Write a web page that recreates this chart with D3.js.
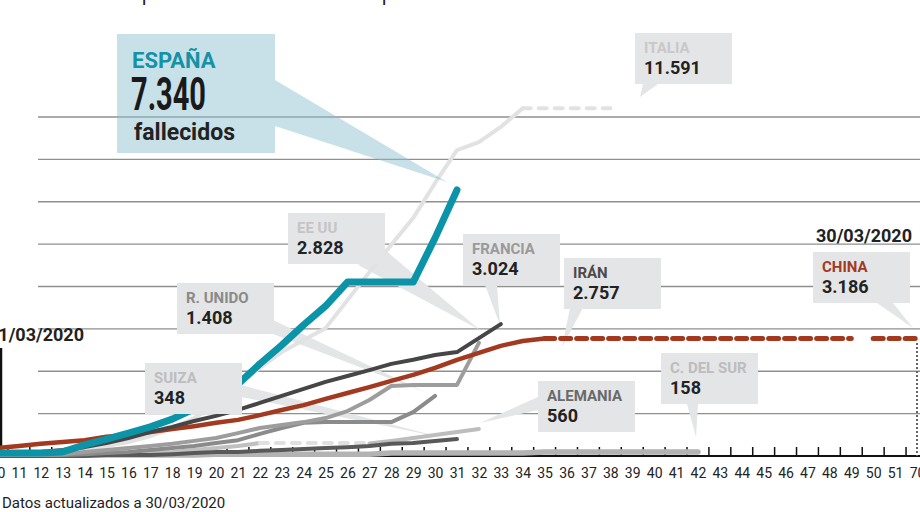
<!DOCTYPE html>
<html>
<head>
<meta charset="utf-8">
<script src="https://cdn.jsdelivr.net/npm/d3@7"></script>
<style>
  html, body { margin: 0; padding: 0; background: #fff; }
  svg { display: block; font-family: Roboto, "Noto Sans", sans-serif; }
</style>
</head>
<body>
<svg id="chart" width="920" height="512"></svg>
<script>
// eje x: dias (con salto entre 51 y 70)
const dias = [10,11,12,13,14,15,16,17,18,19,20,21,22,23,24,25,26,27,28,29,30,
  31,32,33,34,35,36,37,38,39,40,41,42,43,44,45,46,47,48,49,50,51,70];

// fallecidos, todas las series empiezan en el dia 10
const espana   = [80,80,80,110,300,460,620,790,1000,1280,1570,1950,2500,3010,3560,4070,4720,4720,4720,4720,5920,7220];
const italia   = [50,80,110,140,190,270,380,540,760,1030,1380,1930,2390,2820,3150,3470,4230,4990,5730,6460,7410,8300,8520,8930,9440];
const china    = [220,270,330,380,430,520,570,650,730,810,900,980,1110,1250,1380,1550,1710,1870,2040,2200,2390,2610,2800,2990,3120,3186];
const francia  = [50,80,110,160,240,350,490,650,790,950,1090,1250,1440,1630,1820,2010,2170,2330,2500,2610,2740,2820,3200,3580];
const eeuu     = [30,30,30,50,110,160,220,270,330,410,490,620,760,840,920,1030,1220,1520,1900,1930,1930,1930,3070];
const runido   = [30,30,30,30,50,80,110,160,220,270,350,430,600,760,900,920,920,920,920,1190,1630];
const suiza    = [0,0,0,0,0,30,30,30,50,80,110,110,140,160,190,220,240,270,330,350,410,460];
const alemania = [30,30,30,30,30,30,50,80,110,160,220,270,350];
const alemania2 = [340,410,490,570,650,730];   // desde el dia 27
const corea    = [30,30,30,30,30,30,30,30,30,30,50,50,50,50,50,50,50,50,
  80,80,80,80,80,80,80,110,110,110,110,110,110,110,110];

// tramos discontinuos [dia, valor]
const italiaProy   = [[34, 9440], [38, 9440]];
const chinaProy    = [[35, 3186], [49, 3186], null, [50, 3186], [70, 3186]];
const alemaniaHueco = [[22, 350], [27, 350]];

const rejilla = [1150, 2300, 3450, 4600, 5750, 6900, 8050, 9200];

// etiquetas
const nombres = ["ITALIA", "EE UU", "R. UNIDO", "SUIZA", "FRANCIA", "IRÁN", "CHINA", "C. DEL SUR", "ALEMANIA"];
const cifras  = ["11.591", "2.828", "1.408", "348", "3.024", "2.757", "3.186", "158", "560"];
const colorNombre = ["#c8c8c8", "#c4c4c4", "#8a8a8a", "#bdbdbd", "#9a9a9a", "#4a4a4a", "#a3391f", "#bcbcbc", "#6a6a6a"];
// cajas (esquina sup. izq.) y flechas
const cajas = [[635,33],[288,213],[177,283],[145,363],[463,234],[564,258],[813,252],[661,353],[538,381]];
const flechas = [
  [[643,84],[658,84],[640,97]],
  [[358,265],[385,250],[480,330]],
  [[273,320],[273,334],[425,392]],
  [[241,385],[241,397],[440,437]],
  [[485,285],[497,285],[500,325]],
  [[570,308],[583,308],[562,347]],
  [[877,303],[893,303],[913,328]],
  [[687,404],[698,404],[696,437]],
  [[538,397],[538,410],[480,423]]
];

const svg = d3.select("#chart");
const base = 456;

const x = d3.scalePoint().domain(dias).range([-3, 917]);
const y = d3.scaleLinear().domain([0, 9200]).range([base, 117]);

const serie = (vals, d0) => vals.map((v, i) => [d0 + i, v]);
const linea = d3.line()
  .defined(d => d !== null)
  .x(d => x(d[0]))
  .y(d => y(d[1]));

// rejilla
svg.append("g").selectAll("line")
  .data(rejilla)
  .join("line")
  .attr("x1", 38).attr("x2", 920)
  .attr("y1", d => y(d)).attr("y2", d => y(d))
  .attr("stroke", "#8f8f8f").attr("stroke-width", 1.3);

// eje x
const ejeX = d3.axisBottom(x).tickSize(0).tickPadding(12);
const gx = svg.append("g").attr("transform", `translate(0,${base})`).call(ejeX);
gx.select(".domain").remove();
gx.selectAll("text")
  .attr("font-family", "Roboto, sans-serif")
  .attr("font-size", 14)
  .attr("fill", "#222");

svg.append("line")
  .attr("x1", 0).attr("x2", 920).attr("y1", base).attr("y2", base)
  .attr("stroke", "#111").attr("stroke-width", 2);

svg.append("g").selectAll("line")
  .data(dias.slice(0, -1))
  .join("line")
  .attr("x1", d => x(d) + x.step() / 2).attr("x2", d => x(d) + x.step() / 2)
  .attr("y1", base - 9).attr("y2", base)
  .attr("stroke", "#111").attr("stroke-width", 1.5);

// fechas de referencia
svg.append("line")
  .attr("x1", 1).attr("x2", 1).attr("y1", 348).attr("y2", base)
  .attr("stroke", "#111").attr("stroke-width", 2.5);
svg.append("text")
  .attr("x", 84).attr("y", 341)
  .attr("text-anchor", "end")
  .attr("font-size", 18).attr("font-weight", 700).attr("fill", "#222")
  .text("01/03/2020");

svg.append("line")
  .attr("x1", x(70)).attr("x2", x(70)).attr("y1", 343).attr("y2", base)
  .attr("stroke", "#666").attr("stroke-width", 2).attr("stroke-dasharray", "2,2");
svg.append("text")
  .attr("x", 912).attr("y", 242)
  .attr("text-anchor", "end")
  .attr("font-size", 18).attr("font-weight", 700).attr("fill", "#222")
  .text("30/03/2020");

// flechas grises (debajo de las lineas)
svg.append("g").selectAll("path")
  .data(flechas)
  .join("path")
  .attr("d", d => "M" + d.join("L") + "Z")
  .attr("fill", "#e4e5e7");

// lineas
const trazos = [
  { d: serie(italia, 10), c: "#e2e2e2", w: 4 },
  { d: italiaProy, c: "#e2e2e2", w: 4, dash: "8 8" },
  { d: serie(corea, 10), c: "#b3b3b3", w: 5.5 },
  { d: serie(alemania, 10), c: "#c0c0c0", w: 4 },
  { d: alemaniaHueco, c: "#e0e0e0", w: 4, dash: "8 8" },
  { d: serie(alemania2, 27), c: "#bdbdbd", w: 4 },
  { d: serie(suiza, 10), c: "#595959", w: 4 },
  { d: serie(runido, 10), c: "#8b8b8b", w: 4 },
  { d: serie(eeuu, 10), c: "#9d9d9d", w: 4 },
  { d: serie(china, 10), c: "#a3391f", w: 4.5 },
  { d: chinaProy, c: "#a3391f", w: 5, dash: "10 6" },
  { d: serie(francia, 10), c: "#464646", w: 4 },
  { d: serie(espana, 10), c: "#0b93a8", w: 7 }
];

svg.append("g").selectAll("path")
  .data(trazos)
  .join("path")
  .attr("d", t => linea(t.d))
  .attr("fill", "none")
  .attr("stroke", t => t.c)
  .attr("stroke-width", t => t.w)
  .attr("stroke-linecap", "round")
  .attr("stroke-linejoin", "round")
  .attr("stroke-dasharray", t => t.dash || null);

// cajas de etiquetas
const et = svg.append("g").selectAll("g")
  .data(nombres)
  .join("g")
  .attr("transform", (d, i) => `translate(${cajas[i][0]},${cajas[i][1]})`);
et.append("rect")
  .attr("width", 97).attr("height", 51)
  .attr("fill", "#e4e5e7");
et.append("text")
  .attr("x", 9).attr("y", 20)
  .attr("font-size", 15).attr("font-weight", 700)
  .attr("fill", (d, i) => colorNombre[i])
  .text(d => d);
et.append("text")
  .attr("x", 9).attr("y", 41)
  .attr("font-size", 18).attr("font-weight", 700)
  .attr("fill", "#222")
  .text((d, i) => cifras[i]);

// España
svg.append("path")
  .attr("d", "M275,80L447,182L275,126Z")
  .attr("fill", "rgba(140,192,208,0.48)");
svg.append("rect")
  .attr("x", 117).attr("y", 34).attr("width", 158).attr("height", 119)
  .attr("fill", "rgba(140,192,208,0.48)");
svg.append("text")
  .attr("x", 132).attr("y", 68)
  .attr("font-size", 22).attr("font-weight", 700).attr("fill", "#1592a6")
  .text("ESPAÑA");
svg.append("text")
  .attr("x", 131).attr("y", 110)
  .attr("font-size", 46).attr("font-weight", 700).attr("fill", "#1a1a1a")
  .attr("textLength", 75).attr("lengthAdjust", "spacingAndGlyphs")
  .text("7.340");
svg.append("text")
  .attr("x", 134).attr("y", 140)
  .attr("font-size", 23).attr("font-weight", 700).attr("fill", "#222")
  .text("fallecidos");

// titular cortado arriba
svg.append("g").selectAll("text")
  .data([141, 381])
  .join("text")
  .attr("x", d => d).attr("y", -1)
  .attr("font-size", 30).attr("font-weight", 300).attr("fill", "#222")
  .text("p");

// fuente
svg.append("text")
  .attr("x", 2).attr("y", 508)
  .attr("font-size", 15).attr("fill", "#222")
  .text("Datos actualizados a 30/03/2020");
</script>
</body>
</html>
